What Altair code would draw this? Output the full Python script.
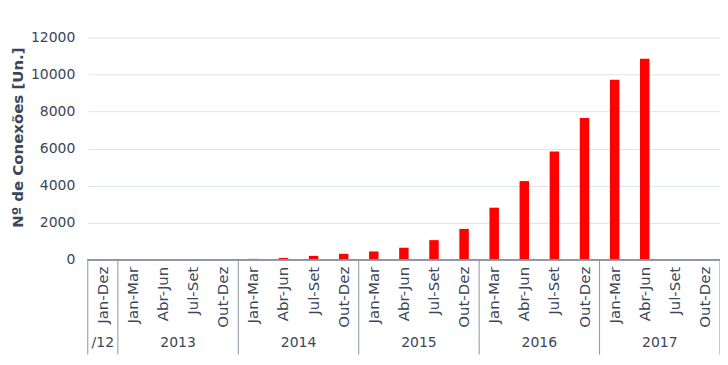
import altair as alt
import pandas as pd

quarters = ["Jan-Dez",
            "Jan-Mar", "Abr-Jun", "Jul-Set", "Out-Dez",
            "Jan-Mar", "Abr-Jun", "Jul-Set", "Out-Dez",
            "Jan-Mar", "Abr-Jun", "Jul-Set", "Out-Dez",
            "Jan-Mar", "Abr-Jun", "Jul-Set", "Out-Dez",
            "Jan-Mar", "Abr-Jun", "Jul-Set", "Out-Dez"]
values = [0,
          0, 0, 0, 30,
          50, 100, 210, 320,
          450, 650, 1060, 1667,
          2812, 4247, 5844, 7651,
          9714, 10844, 0, 0]
year_labels = ["/12", "2013", "2014", "2015", "2016", "2017"]
year_sizes = [1, 4, 4, 4, 4, 4]
y_ticks = [0, 2000, 4000, 6000, 8000, 10000, 12000]

TEXT = "#3b4758"
LINE = "#8a95a3"
GRID = "#dde4ec"
FONT = "DejaVu Sans"

n = len(quarters)
df = pd.DataFrame({"pos": [i + 0.5 for i in range(n)], "value": values,
                   "q": quarters})

bounds = [0]
for s in year_sizes:
    bounds.append(bounds[-1] + s)
sep_df = pd.DataFrame({"b": bounds})
yr_df = pd.DataFrame({
    "c": [(bounds[i] + bounds[i + 1]) / 2 for i in range(len(year_sizes))],
    "label": year_labels,
})

xscale = alt.Scale(domain=[0, n], nice=False, zero=False, padding=0)

W = 634
H = 223

bars = alt.Chart(df).mark_bar(color="#ff0000", width=9.5).encode(
    x=alt.X("pos:Q", scale=xscale, axis=None),
    y=alt.Y("value:Q", scale=alt.Scale(domain=[0, 12000], nice=False),
            axis=alt.Axis(values=y_ticks, format="d", domain=False, ticks=False,
                          labelPadding=13, gridColor=GRID,
                          labelFontSize=14, labelColor=TEXT, labelFont=FONT,
                          title="Nº de Conexões [Un.]", titleFontSize=15,
                          titleFontWeight="bold", titleColor=TEXT,
                          titleFont=FONT, titleX=-62, titleY=100)),
)

qlabels = alt.Chart(df).mark_text(angle=270, align="right", baseline="middle",
                                  fontSize=15, color=TEXT, font=FONT).encode(
    x=alt.X("pos:Q", scale=xscale, axis=None),
    y=alt.value(H + 7),
    text="q:N",
)

baseline = alt.Chart(sep_df).mark_rule(color=LINE, strokeWidth=1).encode(
    x=alt.value(0), x2=alt.value(W), y=alt.value(H),
)

seps = alt.Chart(sep_df).mark_rule(color=LINE, strokeWidth=1).encode(
    x=alt.X("b:Q", scale=xscale, axis=None),
    y=alt.value(H),
    y2=alt.value(H + 95),
)

years = alt.Chart(yr_df).mark_text(baseline="middle", align="center",
                                   fontSize=14, color=TEXT, font=FONT).encode(
    x=alt.X("c:Q", scale=xscale, axis=None),
    y=alt.value(H + 83),
    text="label:N",
)

chart = alt.layer(bars, qlabels, baseline, seps, years).properties(
    width=W, height=H,
    autosize=alt.AutoSizeParams(type="none"),
    padding={"left": 80, "top": 29, "right": 0, "bottom": 100},
).configure_view(stroke=None)

chart.save("out.html", embed_options={"renderer": "svg", "actions": False})
